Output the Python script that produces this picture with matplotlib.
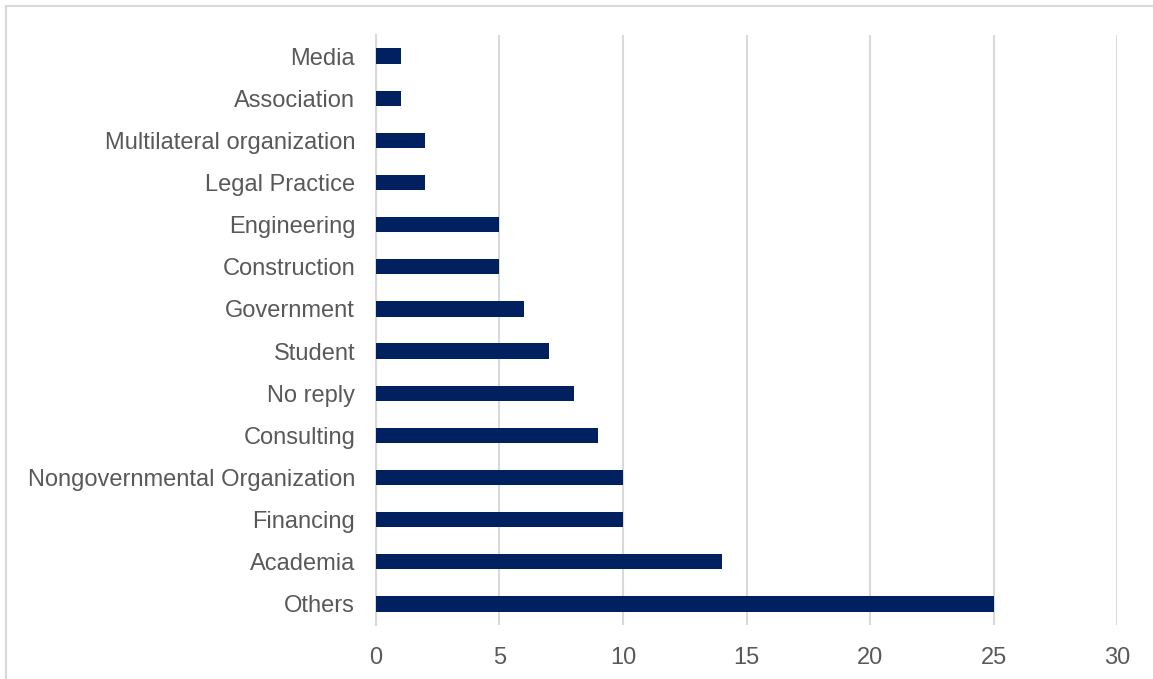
import matplotlib
matplotlib.use("Agg")
import matplotlib.pyplot as plt
from matplotlib.lines import Line2D

plt.rcParams['font.family'] = ['Liberation Sans', 'DejaVu Sans']

# sectors, listed bottom to top
sectors = ["Others", "Academia", "Financing", "Nongovernmental Organization",
           "Consulting", "No reply", "Student", "Government", "Construction",
           "Engineering", "Legal Practice", "Multilateral organization",
           "Association", "Media"]
counts = [25, 14, 10, 10, 9, 8, 7, 6, 5, 5, 2, 2, 1, 1]
xticks = [0, 5, 10, 15, 20, 25, 30]

navy = "#002060"
grey_text = "#595959"
grid_col = "#d9d9d9"

fig = plt.figure(figsize=(11.53, 6.79), dpi=100)
ax = fig.add_axes([0.3261, 0.0795, 0.9688 - 0.3261, 0.9485 - 0.0795])

ypos = range(len(sectors))
ax.barh(ypos, counts, height=0.36, color=navy, zorder=3)

ax.set_xlim(0, 30)
ax.set_ylim(-0.5, len(sectors) - 0.5)
ax.set_xticks(xticks)
ax.set_yticks(list(ypos))
ax.set_yticklabels(sectors)

ax.grid(axis="x", color=grid_col, linewidth=1.5, zorder=0)
for s in ["top", "right", "bottom"]:
    ax.spines[s].set_visible(False)
ax.spines["left"].set_color(grid_col)
ax.spines["left"].set_linewidth(1.5)

ax.tick_params(axis="both", length=0, labelsize=17, labelcolor=grey_text)
ax.tick_params(axis="y", pad=15)
ax.tick_params(axis="x", pad=16)

# outer frame (left and top edges)
fig.add_artist(Line2D([5.5 / 1153, 5.5 / 1153], [0, 1 - 6 / 679],
                      transform=fig.transFigure, color=grid_col, linewidth=1.5))
fig.add_artist(Line2D([5.5 / 1153, 1], [1 - 6 / 679, 1 - 6 / 679],
                      transform=fig.transFigure, color=grid_col, linewidth=1.5))

fig.savefig("out.png", dpi=100)
